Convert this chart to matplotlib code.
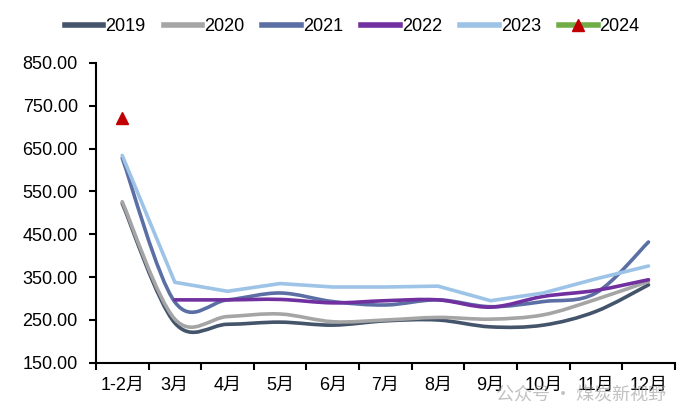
import numpy as np
import matplotlib
matplotlib.use("Agg")
from matplotlib import pyplot as plt
from matplotlib.path import Path
from matplotlib.patches import PathPatch
from matplotlib.lines import Line2D

plt.rcParams['font.family'] = ['Liberation Sans', 'Noto Sans CJK SC', 'DejaVu Sans']

# months on the x axis
months = ['1-2月', '3月', '4月', '5月', '6月', '7月', '8月', '9月', '10月', '11月', '12月']

# values
v2019 = [522, 243, 240, 245, 238, 248, 250, 234, 238, 270, 332]
v2020 = [526, 252, 258, 264, 246, 250, 256, 252, 262, 298, 340]
v2021 = [628, 292, 297, 313, 293, 285, 297, 281, 293, 313, 432]
v2022 = [None, 297, 297, 298, 290, 295, 297, 280, 305, 319, 344]
v2023 = [634, 338, 317, 335, 327, 327, 329, 295, 313, 346, 376]
v2024 = [722]

c2019 = '#44546A'
c2020 = '#A5A5A5'
c2021 = '#5B6FA5'
c2022 = '#7030A0'
c2023 = '#9DC3E6'


def smooth_path(xs, ys):
    # bezier through the points, like excel's smoothed line
    pts = np.column_stack([xs, ys])
    verts = [pts[0]]
    codes = [Path.MOVETO]
    n = len(pts)
    for i in range(n - 1):
        p0 = pts[i - 1] if i > 0 else pts[i]
        p1 = pts[i]
        p2 = pts[i + 1]
        p3 = pts[i + 2] if i + 2 < n else pts[i + 1]
        c1 = p1 + (p2 - p0) / 6
        c2 = p2 - (p3 - p1) / 6
        verts += [c1, c2, p2]
        codes += [Path.CURVE4] * 3
    return Path(verts, codes)


fig = plt.figure(figsize=(7, 4.19), dpi=100)
ax = fig.add_axes([0.137, 0.134, 0.827, 0.716])

x = np.arange(len(months)) + 0.5
lw = 2.6

for vals, col in [(v2019, c2019), (v2020, c2020), (v2021, c2021), (v2022, c2022)]:
    xs = [xi for xi, v in zip(x, vals) if v is not None]
    ys = [v for v in vals if v is not None]
    ax.add_patch(PathPatch(smooth_path(xs, ys), facecolor='none', edgecolor=col,
                           lw=lw, capstyle='round', joinstyle='round'))

ax.plot(x, v2023, color=c2023, lw=lw, solid_capstyle='round')
ax.plot(x[:len(v2024)], v2024, linestyle='none', marker='^', color='#C00000', markersize=8)

ax.set_xlim(0, len(months))
ax.set_ylim(150, 850)
ax.set_yticks(np.arange(150, 851, 100))
ax.set_yticklabels(['%.2f' % v for v in np.arange(150, 851, 100)], fontsize=13)
ax.set_xticks(np.arange(0, len(months) + 1))
ax.set_xticklabels([])
ax.set_xticks(x, minor=True)
ax.set_xticklabels(months, minor=True, fontsize=13)
ax.tick_params(axis='x', which='minor', length=0, pad=10)
ax.tick_params(axis='both', which='major', length=5, width=1.5, direction='out')
ax.tick_params(axis='y', pad=8)

for s in ['top', 'right']:
    ax.spines[s].set_visible(False)
for s in ['left', 'bottom']:
    ax.spines[s].set_linewidth(1.5)

handles = [Line2D([], [], color=c, lw=4) for c in [c2019, c2020, c2021, c2022, c2023]]
handles.append(Line2D([], [], color='#70AD47', lw=4, marker='^', markersize=9,
                      markerfacecolor='#C00000', markeredgecolor='#C00000'))
fig.legend(handles, ['2019', '2020', '2021', '2022', '2023', '2024'], ncol=6,
           loc='center', bbox_to_anchor=(0.503, 0.936), frameon=False, fontsize=13,
           handlelength=2.15, handletextpad=0.1, columnspacing=1.0)

fig.text(0.83, 0.058, '公众号 · 煤炭新视野', fontsize=13, color='#999999', alpha=0.6,
         ha='center', va='center', family=['Noto Sans CJK SC', 'DejaVu Sans'])

fig.savefig('out.png', dpi=100)
